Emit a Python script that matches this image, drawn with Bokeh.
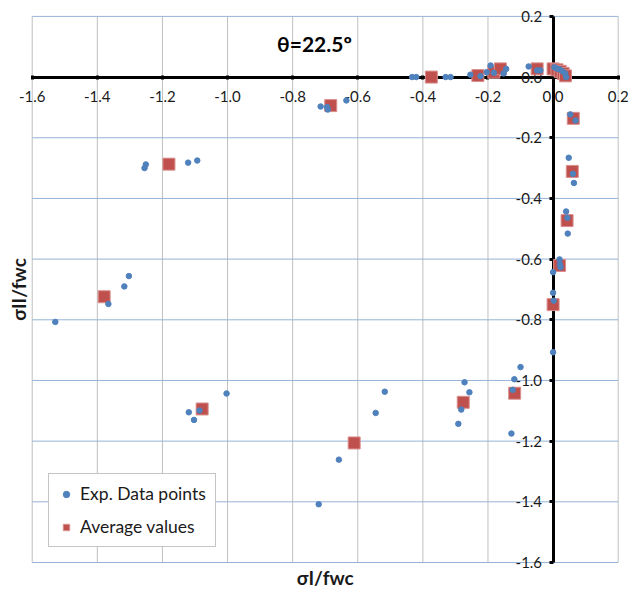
import math
from bokeh.plotting import figure
from bokeh.models import (Range1d, FixedTicker, PrintfTickFormatter, Label, Legend, LegendItem)
from bokeh.embed import file_html
from bokeh.resources import INLINE

# ---- data ----
exp_x = [-0.433, -0.420, -0.330, -0.315,
         -0.254, -0.223, -0.204, -0.192, -0.182, -0.152, -0.144,
         -0.075, -0.049, -0.039,
         0.004, 0.012, 0.021, 0.029, 0.037, 0.040,
         -0.714, -0.694, -0.692, -0.635,
         -1.255, -1.251, -1.121, -1.093,
         -1.303, -1.317, -1.366, -1.529,
         -1.003, -1.119, -1.103, -1.086,
         -0.720, -0.658, -0.545, -0.517,
         -0.272, -0.257, -0.282, -0.291,
         -0.100, -0.119, -0.124, -0.128,
         0.000,
         0.053, 0.069,
         0.048, 0.061, 0.064,
         0.040, 0.044, 0.045,
         0.020, 0.021, 0.023, 0.000,
         0.000, 0.002]
exp_y = [0.000, 0.000, 0.000, 0.000,
         0.008, 0.003, 0.016, 0.038, 0.014, 0.012, 0.027,
         0.035, 0.022, 0.022,
         0.032, 0.028, 0.025, 0.019, 0.012, 0.000,
         -0.097, -0.099, -0.107, -0.077,
         -0.300, -0.288, -0.282, -0.275,
         -0.656, -0.690, -0.748, -0.807,
         -1.043, -1.105, -1.130, -1.099,
         -1.408, -1.261, -1.107, -1.037,
         -1.006, -1.039, -1.096, -1.143,
         -0.956, -0.996, -1.031, -1.175,
         -0.907,
         -0.123, -0.143,
         -0.266, -0.319, -0.349,
         -0.443, -0.464, -0.516,
         -0.601, -0.618, -0.627, -0.643,
         -0.711, -0.737]

avg_x = [-0.374, -0.231, -0.182, -0.162, -0.049,
         0.000, 0.012, 0.022, 0.031, 0.038,
         -0.683, -1.180, -1.379, -1.078, -0.611, -0.276, -0.118,
         0.062, 0.059, 0.043, 0.020, 0.000]
avg_y = [0.000, 0.005, 0.016, 0.027, 0.027,
         0.027, 0.024, 0.019, 0.012, 0.004,
         -0.094, -0.287, -0.724, -1.094, -1.206, -1.072, -1.042,
         -0.136, -0.311, -0.473, -0.621, -0.750]

ticks = [-1.6, -1.4, -1.2, -1.0, -0.8, -0.6, -0.4, -0.2, 0.0, 0.2]

title_text = "θ=22.5º"
x_title = "σI/fwc"
y_title = "σII/fwc"
series_names = ["Exp. Data points", "Average values"]

FONT = "Lato"
LO, HI = -1.6, 0.2

# The frame fills the whole canvas (so end tick labels are not clipped);
# the visible chart box is LO..HI, drawn by the grid segments below.
p = figure(width=630, height=589, output_backend="svg", toolbar_location=None,
           x_range=Range1d(-1.6974, 0.2378), y_range=Range1d(-1.689, 0.2524),
           min_border=0, min_border_left=0, min_border_right=0,
           min_border_top=0, min_border_bottom=0)
p.outline_line_color = None
p.background_fill_color = "white"
p.border_fill_color = "white"
p.grid.visible = False

n = len(ticks)
p.segment(x0=ticks, y0=[LO] * n, x1=ticks, y1=[HI] * n, line_color="#BFBFBF",
          line_width=1, level="underlay")
p.segment(x0=[LO] * n, y0=ticks, x1=[HI] * n, y1=ticks, line_color="#95B3D7",
          line_width=1, level="underlay")

# axes crossing at origin
for ax in (p.xaxis[0], p.yaxis[0]):
    ax.fixed_location = 0
    ax.bounds = (LO, HI)
    ax.ticker = FixedTicker(ticks=ticks)
    ax.formatter = PrintfTickFormatter(format="%.1f")
    ax.axis_line_color = "black"
    ax.axis_line_width = 3
    ax.major_tick_line_color = "black"
    ax.major_tick_line_width = 3
    ax.minor_tick_line_color = None
    ax.major_label_text_font = FONT
    ax.major_label_text_font_size = "15px"
    ax.major_label_text_color = "#1a1a1a"
    ax.axis_label = None
p.xaxis[0].major_tick_in = 2
p.xaxis[0].major_tick_out = 2
p.xaxis[0].major_label_standoff = 12
p.yaxis[0].major_tick_in = 0
p.yaxis[0].major_tick_out = 4
p.yaxis[0].major_label_standoff = 7

# axis titles
p.add_layout(Label(x=(LO + HI) / 2, y=LO, y_offset=-15, text=x_title, text_font=FONT,
                   text_font_size="19px", text_font_style="bold", text_color="#1a1a1a",
                   text_align="center", text_baseline="middle"))
p.add_layout(Label(x=LO, y=(LO + HI) / 2, x_offset=-14, text=y_title, angle=math.pi / 2,
                   text_font=FONT, text_font_size="19px", text_font_style="bold",
                   text_color="#1a1a1a", text_align="center", text_baseline="middle"))

# glyphs
r_avg = p.scatter(avg_x, avg_y, marker="square", size=12, fill_color="#C0504D",
                  line_color="#D9908E", line_width=1, level="overlay")
r_exp = p.scatter(exp_x, exp_y, marker="circle", size=5.5, fill_color="#4F81BD",
                  line_color="#4F81BD", level="overlay")

p.add_layout(Label(x=-0.733, y=0.111, text=title_text, text_font=FONT, text_font_size="21px",
                   text_font_style="bold", text_align="center", text_baseline="middle",
                   text_color="black"))

legend = Legend(items=[LegendItem(label=series_names[0], renderers=[r_exp]),
                       LegendItem(label=series_names[1], renderers=[r_avg])],
                location=(48, 42), label_text_font=FONT, label_text_font_size="17.5px",
                label_text_color="#1a1a1a", border_line_color="#8C8C8C", border_line_width=1,
                background_fill_color="white", background_fill_alpha=1,
                glyph_width=16, glyph_height=20, spacing=12, padding=9, margin=0,
                label_standoff=6)
p.add_layout(legend, "center")

open("out.html", "w").write(file_html(p, INLINE))
